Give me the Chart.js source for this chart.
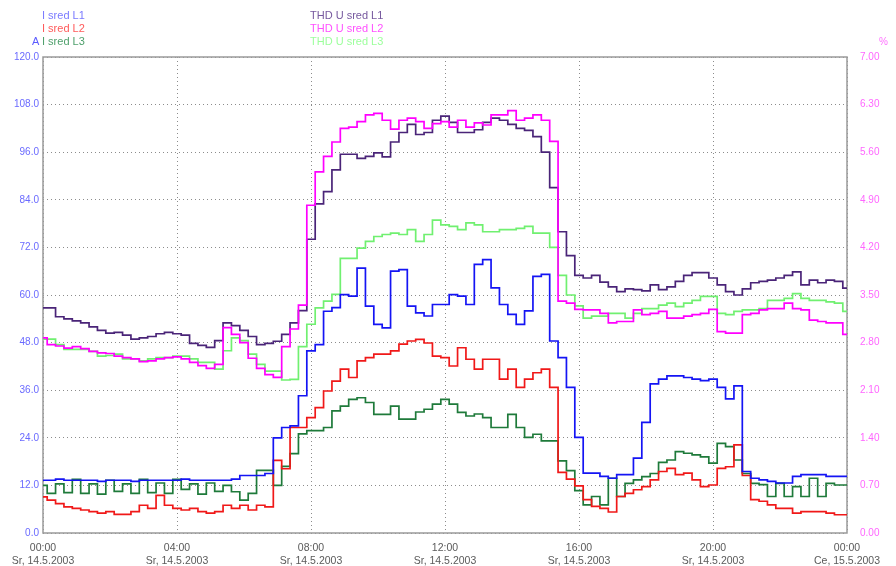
<!DOCTYPE html>
<html>
<head>
<meta charset="utf-8">
<title>I / THD U sred</title>
<script src="https://cdn.jsdelivr.net/npm/chart.js@4/dist/chart.umd.min.js"></script>
<style>
    body { margin: 0; background: #fff; }
    #wrap { position: relative; width: 896px; height: 566px; font-family: "Liberation Sans", Arial, sans-serif; }
    #chart { position: absolute; left: 0; top: 0; }
    .lg { position: absolute; font-size: 11px; line-height: 13px; white-space: nowrap; }
</style>
</head>
<body>
<div id="wrap">
    <canvas id="chart" width="896" height="566"></canvas>
    <!-- legend, left (currents) -->
    <div class="lg" style="left:42px; top:9px; color:#7a7aff;">I sred L1</div>
    <div class="lg" style="left:42px; top:22px; color:#ff5a5a;">I sred L2</div>
    <div class="lg" style="left:32px; top:35px; color:#5a5aff;">A</div>
    <div class="lg" style="left:42px; top:35px; color:#4fa06c;">I sred L3</div>
    <!-- legend, middle (THD) -->
    <div class="lg" style="left:310px; top:9px; color:#76589e;">THD U sred L1</div>
    <div class="lg" style="left:310px; top:22px; color:#ff50ff;">THD U sred L2</div>
    <div class="lg" style="left:310px; top:35px; color:#9cff9c;">THD U sred L3</div>
    <div class="lg" style="left:879px; top:35px; color:#ff70ff; font-size:10px;">%</div>
</div>
<script>
// 15 minute samples, 14.5.2003 00:00 -> 15.5.2003 00:00
const STEP_MIN = 15;

// currents [A], left axis
const iL1 = [13.3,13.3,13.6,13.3,13.3,13.3,13.3,13.0,13.3,13.3,13.3,13.0,13.3,13.3,13.3,13.3,13.3,13.6,13.3,13.3,13.3,13.3,13.3,13.6,
    14.5,14.5,14.5,15.0,24.0,26.6,27.0,34.6,
    45.9,47.5,55.9,56.8,60.1,59.7,66.8,57.2,52.6,51.7,66.0,66.4,57.2,55.5,54.7,57.6,57.6,60.1,59.7,57.6,67.7,68.9,61.8,57.6,55.1,52.6,56.0,64.7,65.2,48.4,44.2,36.7,24.1,
    15.1,15.1,14.3,13.8,14.7,14.7,18.9,27.9,37.6,38.8,39.6,39.6,39.2,38.8,38.4,38.8,36.7,33.8,37.1,15.5,13.8,13.4,13.0,12.6,12.6,14.3,14.7,14.7,14.7,14.3,14.3,14.3];
const iL2 = [9.1,8.3,7.4,6.6,6.2,5.8,5.4,5.0,5.4,4.7,4.7,5.4,7.0,6.2,9.5,7.0,6.2,5.8,6.2,5.4,5.0,5.4,7.0,6.2,7.0,5.8,7.0,6.6,18.3,16.2,26.6,26.6,
    29.1,31.6,35.8,38.3,41.3,39.2,43.4,44.2,45.1,45.1,45.9,47.6,48.4,48.8,47.9,44.6,44.2,42.1,46.7,43.8,41.3,43.8,43.8,38.8,41.3,36.7,38.8,40.4,41.3,36.7,15.3,13.6,11.9,
    8.4,6.7,6.2,5.3,9.2,10.0,10.9,11.7,13.4,15.5,16.3,14.7,15.1,13.4,11.7,12.1,16.3,16.7,22.2,14.5,8.4,8.0,7.1,6.2,6.2,5.0,5.4,5.4,5.4,5.0,4.6,4.6];
const iL3 = [12.0,10.0,12.4,10.2,13.5,10.0,12.4,9.8,13.3,10.5,12.4,10.0,13.5,10.2,12.6,10.0,13.5,11.0,12.4,9.8,12.6,10.5,12.0,10.4,8.3,10.0,15.8,15.8,12.0,16.8,20.0,25.0,
    25.8,25.8,26.6,30.8,32.0,33.7,34.1,32.9,29.9,29.9,32.0,28.7,28.7,30.5,31.2,32.5,33.7,32.5,30.4,29.5,30.0,29.1,26.6,26.6,29.9,26.6,24.1,24.9,23.2,23.2,18.2,15.7,10.7,
    7.1,9.2,7.1,13.8,9.2,12.5,13.4,14.2,15.0,17.8,18.4,20.5,20.1,19.7,19.2,17.6,22.6,21.8,18.4,15.0,12.5,12.2,9.2,12.5,9.2,11.7,9.2,13.8,9.2,12.5,12.1,12.1];

// THD U [%], right axis
const thdL1 = [3.31,3.31,3.18,3.15,3.12,3.09,3.03,2.98,2.94,2.95,2.91,2.85,2.87,2.89,2.93,2.95,2.93,2.91,2.79,2.76,2.73,2.83,3.09,3.05,2.98,2.89,2.77,2.79,2.82,2.92,3.09,3.27,
    4.32,4.84,5.02,5.34,5.57,5.57,5.51,5.54,5.59,5.53,5.75,5.89,6.01,5.86,5.89,6.07,6.13,6.04,5.89,5.89,5.93,6.04,6.10,6.07,6.01,5.95,5.92,5.83,5.60,5.08,4.43,4.08,3.79,
    3.75,3.79,3.69,3.62,3.55,3.59,3.58,3.56,3.65,3.58,3.62,3.70,3.79,3.83,3.83,3.75,3.65,3.55,3.50,3.59,3.68,3.70,3.72,3.75,3.79,3.84,3.65,3.72,3.68,3.72,3.70,3.60];
const thdL2 = [2.87,2.77,2.75,2.72,2.74,2.71,2.67,2.65,2.64,2.60,2.58,2.56,2.52,2.53,2.56,2.58,2.59,2.56,2.51,2.46,2.42,2.48,3.02,2.92,2.80,2.57,2.42,2.33,2.29,2.74,3.00,3.35,
    4.82,5.31,5.54,5.75,5.95,5.97,6.05,6.15,6.17,6.07,5.94,6.07,6.10,6.05,5.95,6.02,6.05,5.97,6.07,5.97,6.03,6.00,6.15,6.15,6.21,6.07,6.10,6.15,6.07,5.76,3.41,3.38,3.29,
    3.28,3.28,3.23,3.09,3.11,3.11,3.28,3.21,3.23,3.26,3.16,3.16,3.19,3.21,3.23,3.29,2.96,2.94,2.94,3.21,3.23,3.28,3.30,3.30,3.38,3.30,3.28,3.13,3.11,3.09,3.09,2.92];
const thdL3 = [2.85,2.85,2.77,2.70,2.70,2.70,2.67,2.60,2.61,2.63,2.56,2.56,2.53,2.56,2.58,2.58,2.60,2.60,2.56,2.51,2.51,2.41,2.68,2.87,2.83,2.63,2.48,2.38,2.38,2.25,2.26,2.74,
    3.07,3.31,3.41,3.51,4.04,4.04,4.19,4.29,4.36,4.39,4.41,4.39,4.46,4.29,4.39,4.60,4.53,4.51,4.46,4.56,4.53,4.43,4.43,4.46,4.46,4.48,4.51,4.41,4.41,4.20,3.79,3.50,3.34,
    3.16,3.19,3.19,3.23,3.23,3.16,3.23,3.30,3.30,3.35,3.38,3.33,3.38,3.42,3.48,3.48,3.23,3.21,3.26,3.28,3.28,3.30,3.42,3.42,3.45,3.52,3.45,3.42,3.42,3.40,3.38,3.26];

// x tick labels (every 4 hours)
const xTickTimes = ['00:00', '04:00', '08:00', '12:00', '16:00', '20:00', '00:00'];
const xTickDates = ['Sr, 14.5.2003', 'Sr, 14.5.2003', 'Sr, 14.5.2003', 'Sr, 14.5.2003', 'Sr, 14.5.2003', 'Sr, 14.5.2003', 'Ce, 15.5.2003'];

const toPoints = arr => arr.map((v, i) => ({ x: i * STEP_MIN, y: v }));

function series(label, data, color, axis) {
    return {
        label: label,
        data: toPoints(data),
        borderColor: color,
        borderWidth: 1.7,
        pointRadius: 0,
        stepped: 'middle',
        fill: false,
        yAxisID: axis
    };
}

// plot frame
const framePlugin = {
    id: 'frame',
    beforeDatasetsDraw(chart) {
        const { ctx, chartArea: a } = chart;
        ctx.save();
        ctx.strokeStyle = '#9a9a9a';
        ctx.lineWidth = 1.5;
        ctx.strokeRect(a.left, a.top, a.right - a.left, a.bottom - a.top);
        ctx.restore();
    }
};

const gridStyle = { color: '#8c8c8c', lineWidth: 1, drawTicks: false };

new Chart(document.getElementById('chart').getContext('2d'), {
    type: 'line',
    data: {
        datasets: [
            series('I sred L1', iL1, '#1414f4', 'yA'),
            series('I sred L2', iL2, '#f01818', 'yA'),
            series('I sred L3', iL3, '#1e7a3a', 'yA'),
            series('THD U sred L2', thdL2, '#ff00ff', 'yP'),
            series('THD U sred L3', thdL3, '#70f070', 'yP'),
            series('THD U sred L1', thdL1, '#4a2478', 'yP')
        ]
    },
    options: {
        responsive: false,
        animation: false,
        layout: { padding: { top: 57, left: 0, right: 0, bottom: 0 } },
        plugins: { legend: { display: false }, tooltip: { enabled: false } },
        scales: {
            x: {
                type: 'linear',
                min: 0,
                max: 1440,
                grid: gridStyle,
                border: { display: false, dash: [1, 3] },
                ticks: {
                    stepSize: 240,
                    autoSkip: false,
                    maxRotation: 0,
                    padding: 9,
                    color: '#5a5a5a',
                    font: { family: 'Liberation Sans', size: 10.5 },
                    callback: v => {
                        const i = Math.round(v / 240);
                        return [xTickTimes[i], xTickDates[i]];
                    }
                },
                afterFit: s => { s.height = 33; }
            },
            yA: {
                position: 'left',
                min: 0,
                max: 120,
                grid: gridStyle,
                border: { display: false, dash: [1, 3] },
                ticks: {
                    stepSize: 12,
                    padding: 4,
                    color: '#6a6aff',
                    font: { family: 'Liberation Sans', size: 10 },
                    callback: v => v.toFixed(1)
                },
                afterFit: s => { s.width = 43; }
            },
            yP: {
                position: 'right',
                min: 0,
                max: 7,
                grid: { display: false },
                border: { display: false },
                ticks: {
                    stepSize: 0.7,
                    padding: 5,
                    color: '#ff66ff',
                    font: { family: 'Liberation Sans', size: 10 },
                    callback: v => v.toFixed(2)
                },
                afterFit: s => { s.width = 49; }
            }
        }
    },
    plugins: [framePlugin]
});
</script>
</body>
</html>
